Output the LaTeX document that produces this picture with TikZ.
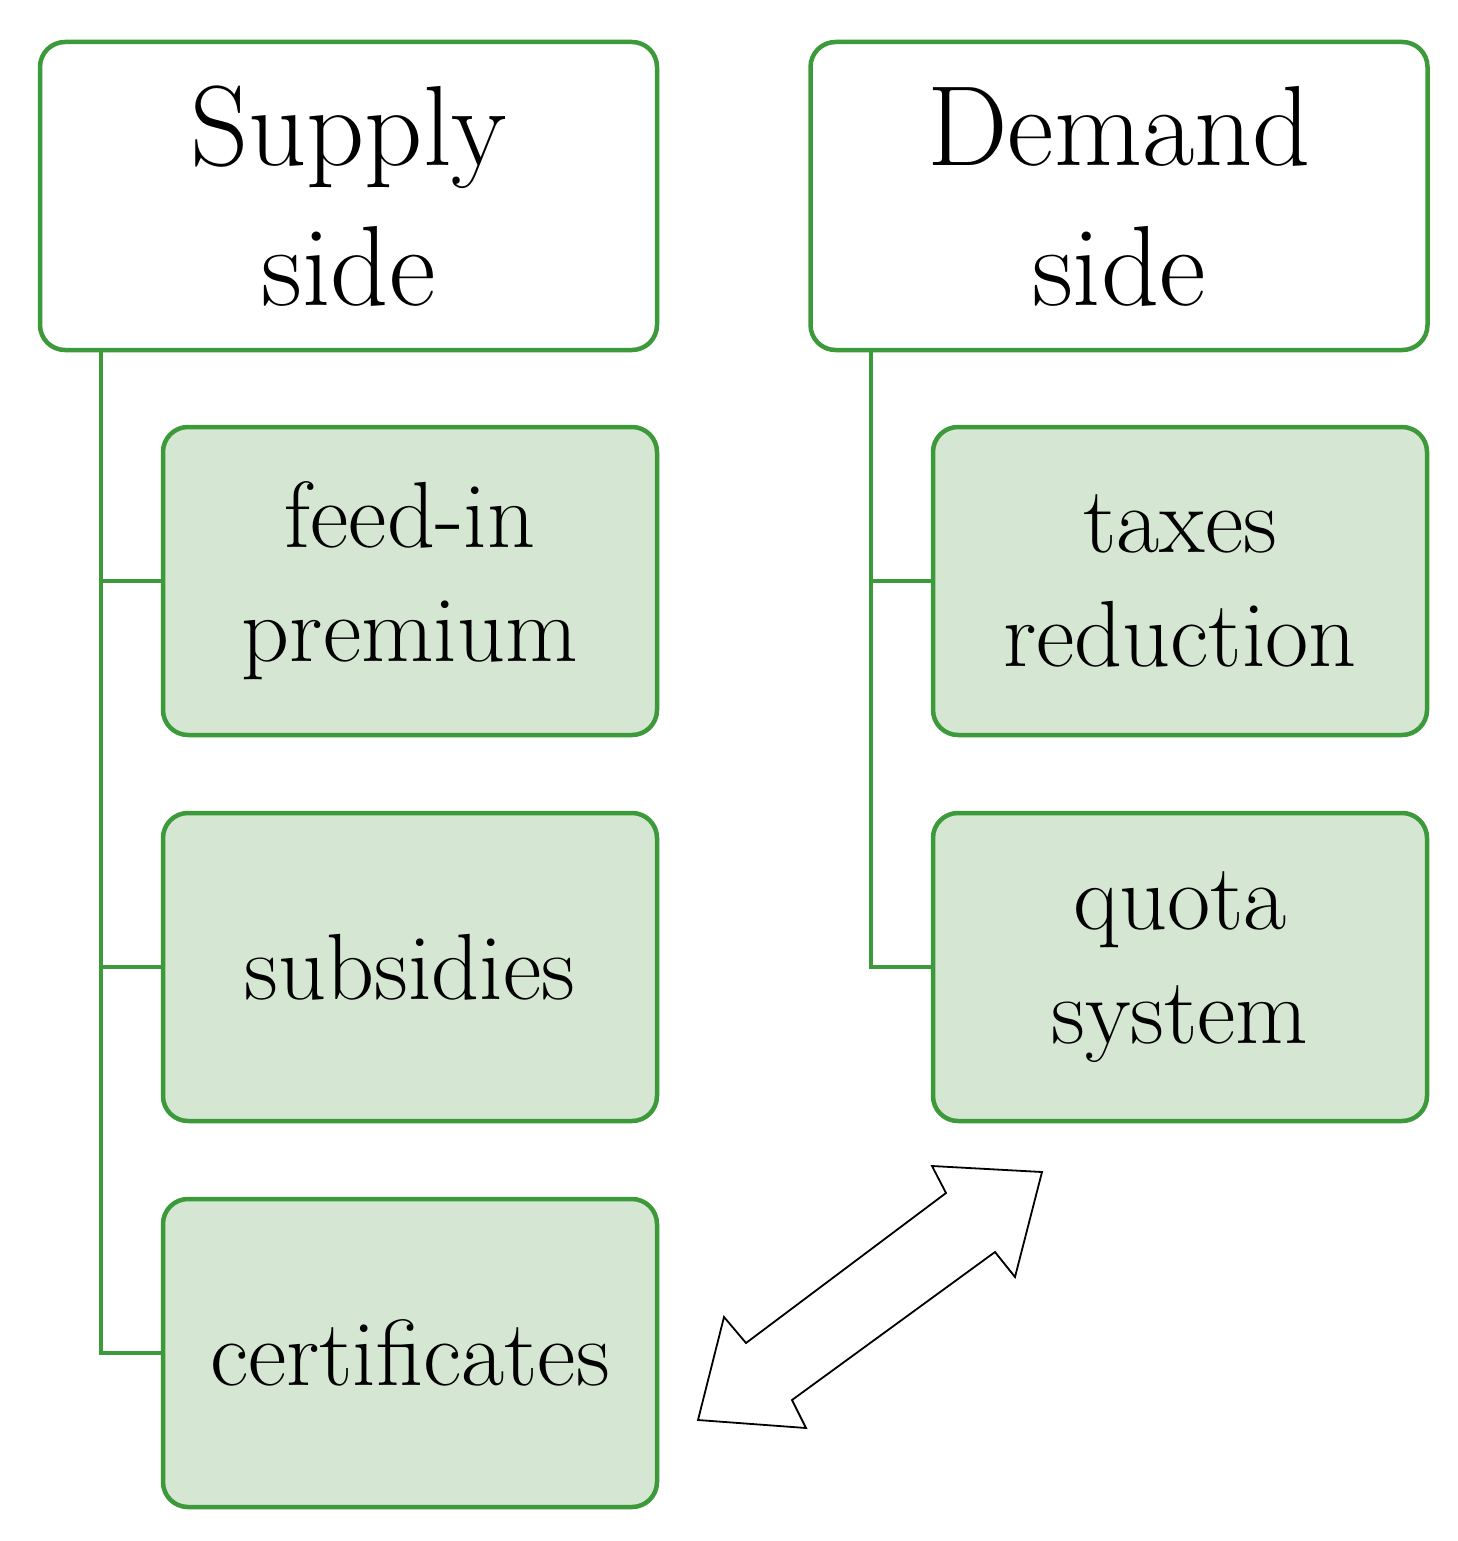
\documentclass[tikz,border=0pt]{standalone}
\begin{document}
\begin{tikzpicture}[x=1pt,y=-1pt,
  hd/.style={draw=gr,line width=4.5pt,rounded corners=25pt,fill=white,minimum width=617pt,minimum height=308pt,align=center,font=\fontsize{114}{140}\selectfont,inner sep=0pt},
  it/.style={draw=gr,line width=4.5pt,rounded corners=25pt,fill=gf,minimum width=494pt,minimum height=308pt,align=center,font=\fontsize{94}{114}\selectfont,inner sep=0pt},
  ln/.style={draw=gr,line width=4.5pt}]
\definecolor{gr}{HTML}{3C9A3A}
\definecolor{gf}{HTML}{D5E6D3}
\useasboundingbox (0,0) rectangle (1458,1541);
\node[hd] (S) at (348.5,196) {Supply\\side};
\node[hd] (D) at (1119,196) {Demand\\side};
\node[it] (a) at (410,581) {feed-in\\premium};
\node[it] (b) at (410,967) {subsidies};
\node[it] (c) at (410,1353) {certificates};
\node[it] (d) at (1180,581) {taxes\\reduction};
\node[it] (e) at (1180,967) {quota\\system};
\coordinate (sl) at (101,350);
\coordinate (dl) at (871,350);
\draw[ln] (sl) |- (c.west);
\draw[ln] (sl|-a.west) -- (a.west);
\draw[ln] (sl|-b.west) -- (b.west);
\draw[ln] (dl) |- (e.west);
\draw[ln] (dl|-d.west) -- (d.west);
\draw[line width=1.8pt,fill=white,line join=miter] (698,1420) -- (724,1317) -- (746,1343) -- (946,1193) -- (932,1166) -- (1042,1172) -- (1015,1277) -- (995,1252) -- (792,1400) -- (806,1428) -- cycle;
\end{tikzpicture}
\end{document}
